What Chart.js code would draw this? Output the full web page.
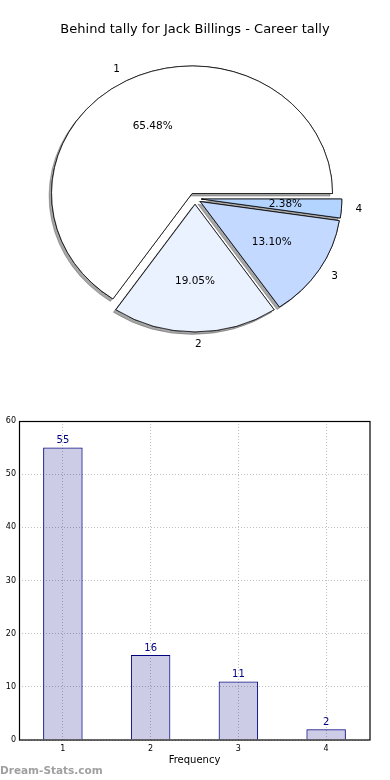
<!DOCTYPE html>
<html><head><meta charset="utf-8">
<script src="https://cdn.jsdelivr.net/npm/chart.js@4.4.0/dist/chart.umd.min.js"></script>
<style>
html,body{margin:0;padding:0;background:#fff;}
#wrap{position:relative;width:390px;height:780px;overflow:hidden;background:#fff;}
#pie{position:absolute;left:0;top:0;}
#bar{position:absolute;left:0;top:400px;}
#wm{position:absolute;left:0;top:764px;font:bold 10.5px "DejaVu Sans";color:#a0a0a0;white-space:nowrap;}
</style></head><body>
<div id="wrap">
<canvas id="pie" width="390" height="400"></canvas>
<canvas id="bar" width="390" height="380"></canvas>
<div id="wm"></div>
</div>
<script>
const titleText = 'Behind tally for Jack Billings - Career tally';
const categories = ['1', '2', '3', '4'];
const counts = [55, 16, 11, 2];
const pctLabels = ['65.48%', '19.05%', '13.10%', '2.38%'];
const pieColors = ['#ffffff', '#ebf2ff', '#c4d9ff', '#b3d4ff'];
const yTicks = [0, 10, 20, 30, 40, 50, 60];
const xTitle = 'Frequency';
const watermark = 'Dream-Stats.com';

document.getElementById('wm').textContent = watermark;
Chart.defaults.font.family = 'DejaVu Sans';

const EXPLODE = 0.045;      // fraction of radius
const KY = 128 / 141;       // vertical squash of the pie (non-equal aspect)
const order = [3, 2, 1, 0]; // Chart.js draws clockwise; matplotlib counter-clockwise

const piePlugin = {
  id: 'piePlugin',
  beforeDatasetsDraw(chart) {
    const ctx = chart.ctx;
    const arcs = chart.getDatasetMeta(0).data;
    const cx = arcs[0].x, cy = arcs[0].y, R = arcs[0].outerRadius;
    const drawAll = () => {
      arcs.forEach(a => {
        const mid = (a.startAngle + a.endAngle) / 2;
        ctx.save();
        ctx.translate(Math.cos(mid) * EXPLODE * R, Math.sin(mid) * EXPLODE * R);
        a.draw(ctx);
        ctx.restore();
      });
    };
    ctx.save();
    ctx.translate(cx, cy); ctx.scale(1, KY); ctx.translate(-cx, -cy);
    ctx.save();
    ctx.shadowColor = 'rgba(77,77,77,0.5)';
    ctx.shadowOffsetX = -2.5; ctx.shadowOffsetY = 2.5; ctx.shadowBlur = 0;
    drawAll();
    ctx.restore();
    drawAll();
    ctx.restore();
    return false;
  },
  afterDraw(chart) {
    const ctx = chart.ctx;
    const arcs = chart.getDatasetMeta(0).data;
    ctx.save();
    ctx.fillStyle = '#000';
    ctx.font = '10.5px "DejaVu Sans"';
    ctx.textBaseline = 'middle';
    arcs.forEach((a, j) => {
      const i = order[j];
      const mid = (a.startAngle + a.endAngle) / 2;
      const c = Math.cos(mid), s = Math.sin(mid);
      const R = a.outerRadius;
      const lx = a.x + (EXPLODE + 1.1) * R * c;
      const ly = a.y + (EXPLODE + 1.1) * R * KY * s;
      ctx.textAlign = c >= -1e-6 ? 'left' : 'right';
      ctx.fillText(categories[i], lx, ly);
      const px = a.x + (EXPLODE + 0.6) * R * c;
      const py = a.y + (EXPLODE + 0.6) * R * KY * s;
      ctx.textAlign = 'center';
      ctx.fillText(pctLabels[i], px, py);
    });
    ctx.restore();
  }
};

new Chart(document.getElementById('pie'), {
  type: 'pie',
  data: {
    labels: order.map(i => categories[i]),
    datasets: [{
      data: order.map(i => counts[i]),
      backgroundColor: order.map(i => pieColors[i]),
      borderColor: '#000',
      borderWidth: 0.8,
      borderJoinStyle: 'miter'
    }]
  },
  options: {
    responsive: false,
    animation: false,
    events: [],
    rotation: 90,
    radius: 140.5,
    layout: { padding: { top: 0, bottom: 50.4, left: 0, right: 0 } },
    plugins: {
      legend: { display: false },
      tooltip: { enabled: false },
      title: {
        display: true, text: titleText, color: '#000',
        font: { family: 'DejaVu Sans', size: 13, weight: 'normal' },
        padding: { top: 22, bottom: 10 }
      }
    }
  },
  plugins: [piePlugin]
});

const gridColor = 'rgba(128,128,128,0.5)';
const barPlugin = {
  id: 'barPlugin',
  afterDraw(chart) {
    const ctx = chart.ctx;
    const a = chart.chartArea;
    ctx.save();
    ctx.strokeStyle = '#000';
    ctx.lineWidth = 1.2;
    ctx.strokeRect(Math.round(a.left) + 0.5, Math.round(a.top) + 0.5,
                   Math.round(a.right - a.left) - 0.5, Math.round(a.bottom - a.top) - 0.5);
    ctx.fillStyle = '#000080';
    ctx.font = '10px "DejaVu Sans"';
    ctx.textAlign = 'center';
    ctx.textBaseline = 'middle';
    chart.getDatasetMeta(0).data.forEach((el, i) => {
      ctx.fillText(String(counts[i]), el.x, el.y - 7);
    });
    ctx.restore();
  }
};

new Chart(document.getElementById('bar'), {
  type: 'bar',
  data: {
    labels: categories,
    datasets: [{
      data: counts,
      backgroundColor: 'rgba(0,0,128,0.2)',
      borderColor: '#000080',
      borderWidth: 1,
      barPercentage: 0.45,
      categoryPercentage: 1
    }]
  },
  options: {
    responsive: false,
    animation: false,
    events: [],
    layout: { padding: { top: 21, right: 20, left: 0, bottom: 0 } },
    plugins: { legend: { display: false }, tooltip: { enabled: false } },
    scales: {
      x: {
        offset: true,
        z: 1,
        grid: { offset: false, color: gridColor, drawTicks: false, lineWidth: 1 },
        border: { display: false, dash: [1, 2] },
        ticks: { color: '#000', font: { family: 'DejaVu Sans', size: 8 }, padding: 4, maxRotation: 0 },
        title: { display: true, text: xTitle, color: '#000', font: { family: 'DejaVu Sans', size: 10 }, padding: { top: 0, bottom: 14 } },
        afterFit(s) { s.height = 40; }
      },
      y: {
        min: 0, max: 60,
        z: 1,
        afterBuildTicks(s) { s.ticks = yTicks.map(v => ({ value: v })); },
        ticks: { color: '#000', font: { family: 'DejaVu Sans', size: 8 }, padding: 3 },
        grid: { color: gridColor, drawTicks: false, lineWidth: 1 },
        border: { display: false, dash: [1, 2] },
        afterFit(s) { s.width = 19; }
      }
    }
  },
  plugins: [barPlugin]
});
</script>
</body></html>
